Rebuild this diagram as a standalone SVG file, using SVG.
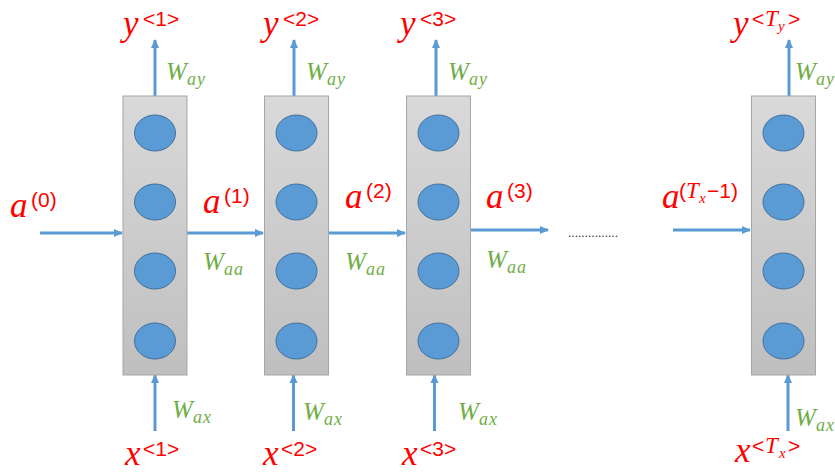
<svg xmlns="http://www.w3.org/2000/svg" width="835" height="473" viewBox="0 0 835 473">
<defs>
<linearGradient id="gbox" x1="0" y1="0" x2="0" y2="1">
<stop offset="0" stop-color="#d9d9d9"/>
<stop offset="1" stop-color="#bfbfbf"/>
</linearGradient>
<marker id="ah" markerWidth="10" markerHeight="10" refX="8" refY="5" orient="auto" markerUnits="userSpaceOnUse">
<path d="M0,1 L9,5 L0,9 Z" fill="#5b9bd5"/>
</marker>
<style>
.box{fill:url(#gbox);stroke:#a6a6a6;stroke-width:1}
.c{fill:#5b9bd5;stroke:#41719c;stroke-width:1}
.ar{stroke:#5b9bd5;stroke-width:3;fill:none;marker-end:url(#ah)}
.red{fill:#ff0000}
.grn{fill:#70ad47}
.mi{font-family:"Liberation Serif",serif;font-style:italic}
.big{font-size:35px}
.sup{font-family:"Liberation Sans",sans-serif;font-size:21px}
.w{font-size:25px}
.sub{font-size:18px;letter-spacing:1px}
.dots{font-family:"Liberation Sans",sans-serif;font-size:12px;fill:#262626}
</style>
</defs>
<g id="connectors">
<line class="ar" x1="40" y1="233" x2="122" y2="233"/>
<line class="ar" x1="187" y1="233" x2="263" y2="233"/>
<line class="ar" x1="329" y1="233" x2="405" y2="233"/>
<line class="ar" x1="470" y1="230" x2="548" y2="230"/>
<line class="ar" x1="673" y1="230" x2="750" y2="230"/>
<line class="ar" x1="155" y1="96" x2="155" y2="40"/>
<line class="ar" x1="294" y1="96" x2="294" y2="40"/>
<line class="ar" x1="436" y1="96" x2="436" y2="40"/>
<line class="ar" x1="789" y1="96" x2="789" y2="40"/>
<line class="ar" x1="155" y1="431" x2="155" y2="375"/>
<line class="ar" x1="293.5" y1="431" x2="293.5" y2="375"/>
<line class="ar" x1="434.5" y1="431" x2="434.5" y2="375"/>
<line class="ar" x1="788" y1="431" x2="788" y2="375"/>
</g>
<g id="cell1">
<rect class="box" x="123" y="96" width="64" height="279"/>
<ellipse class="c" cx="155" cy="133" rx="20.5" ry="18"/>
<ellipse class="c" cx="155" cy="202" rx="20.5" ry="18"/>
<ellipse class="c" cx="155" cy="271" rx="20.5" ry="18"/>
<ellipse class="c" cx="155" cy="341" rx="20.5" ry="18"/>
</g>
<g id="cell2">
<rect class="box" x="264.5" y="96" width="64" height="279"/>
<ellipse class="c" cx="296.5" cy="133" rx="20.5" ry="18"/>
<ellipse class="c" cx="296.5" cy="202" rx="20.5" ry="18"/>
<ellipse class="c" cx="296.5" cy="271" rx="20.5" ry="18"/>
<ellipse class="c" cx="296.5" cy="341" rx="20.5" ry="18"/>
</g>
<g id="cell3">
<rect class="box" x="406.5" y="96" width="64" height="279"/>
<ellipse class="c" cx="438.5" cy="133" rx="20.5" ry="18"/>
<ellipse class="c" cx="438.5" cy="202" rx="20.5" ry="18"/>
<ellipse class="c" cx="438.5" cy="271" rx="20.5" ry="18"/>
<ellipse class="c" cx="438.5" cy="341" rx="20.5" ry="18"/>
</g>
<g id="cellT">
<rect class="box" x="751.5" y="96" width="64" height="279"/>
<ellipse class="c" cx="783.5" cy="133" rx="20.5" ry="18"/>
<ellipse class="c" cx="783.5" cy="202" rx="20.5" ry="18"/>
<ellipse class="c" cx="783.5" cy="271" rx="20.5" ry="18"/>
<ellipse class="c" cx="783.5" cy="341" rx="20.5" ry="18"/>
</g>
<g id="dots"><text class="dots" x="568" y="237">...............</text></g>
<g id="labels-y">
<text class="red"><tspan class="mi big" x="123" y="35">y</tspan><tspan class="sup" x="143" y="26">&lt;1&gt;</tspan></text>
<text class="red"><tspan class="mi big" x="263" y="35">y</tspan><tspan class="sup" x="283" y="26">&lt;2&gt;</tspan></text>
<text class="red"><tspan class="mi big" x="400" y="35">y</tspan><tspan class="sup" x="420" y="26">&lt;3&gt;</tspan></text>
<text class="red"><tspan class="mi big" x="733" y="35">y</tspan><tspan class="sup" x="752" y="26">&lt;</tspan><tspan class="mi" font-size="23" x="765" y="26">T</tspan><tspan class="mi" font-size="15" x="778" y="31">y</tspan><tspan class="sup" x="788" y="26">&gt;</tspan></text>
</g>
<g id="labels-way">
<text class="grn mi"><tspan class="w" x="166" y="80">W</tspan><tspan class="sub" x="187" y="85">ay</tspan></text>
<text class="grn mi"><tspan class="w" x="306" y="80">W</tspan><tspan class="sub" x="327" y="85">ay</tspan></text>
<text class="grn mi"><tspan class="w" x="448" y="80">W</tspan><tspan class="sub" x="469" y="85">ay</tspan></text>
<text class="grn mi"><tspan class="w" x="795" y="80">W</tspan><tspan class="sub" x="816" y="85">ay</tspan></text>
</g>
<g id="labels-a">
<text class="red"><tspan class="mi big" x="10" y="217">a</tspan><tspan class="sup" x="31" y="207">(0)</tspan></text>
<text class="red"><tspan class="mi big" x="203" y="213">a</tspan><tspan class="sup" x="224" y="203">(1)</tspan></text>
<text class="red"><tspan class="mi big" x="345" y="208">a</tspan><tspan class="sup" x="366" y="198">(2)</tspan></text>
<text class="red"><tspan class="mi big" x="486" y="208">a</tspan><tspan class="sup" x="507" y="198">(3)</tspan></text>
<text class="red"><tspan class="mi big" x="662" y="208">a</tspan><tspan class="sup" x="679" y="198">(</tspan><tspan class="mi" font-size="23" x="686" y="198">T</tspan><tspan class="mi" font-size="15" x="699" y="203">x</tspan><tspan class="sup" x="707" y="198">−1)</tspan></text>
</g>
<g id="labels-waa">
<text class="grn mi"><tspan class="w" x="203" y="270">W</tspan><tspan class="sub" x="224" y="275">aa</tspan></text>
<text class="grn mi"><tspan class="w" x="345" y="270">W</tspan><tspan class="sub" x="366" y="275">aa</tspan></text>
<text class="grn mi"><tspan class="w" x="486" y="268">W</tspan><tspan class="sub" x="507" y="273">aa</tspan></text>
</g>
<g id="labels-wax">
<text class="grn mi"><tspan class="w" x="172" y="418">W</tspan><tspan class="sub" x="193" y="423">ax</tspan></text>
<text class="grn mi"><tspan class="w" x="303" y="420">W</tspan><tspan class="sub" x="324" y="425">ax</tspan></text>
<text class="grn mi"><tspan class="w" x="458" y="420">W</tspan><tspan class="sub" x="479" y="425">ax</tspan></text>
<text class="grn mi"><tspan class="w" x="795" y="426">W</tspan><tspan class="sub" x="816" y="431">ax</tspan></text>
</g>
<g id="labels-x">
<text class="red"><tspan class="mi big" x="125" y="465">x</tspan><tspan class="sup" x="143" y="456">&lt;1&gt;</tspan></text>
<text class="red"><tspan class="mi big" x="263" y="465">x</tspan><tspan class="sup" x="281" y="456">&lt;2&gt;</tspan></text>
<text class="red"><tspan class="mi big" x="402" y="465">x</tspan><tspan class="sup" x="420" y="456">&lt;3&gt;</tspan></text>
<text class="red"><tspan class="mi big" x="735" y="462">x</tspan><tspan class="sup" x="752" y="453">&lt;</tspan><tspan class="mi" font-size="23" x="765" y="453">T</tspan><tspan class="mi" font-size="15" x="779" y="458">x</tspan><tspan class="sup" x="788" y="453">&gt;</tspan></text>
</g>
</svg>
